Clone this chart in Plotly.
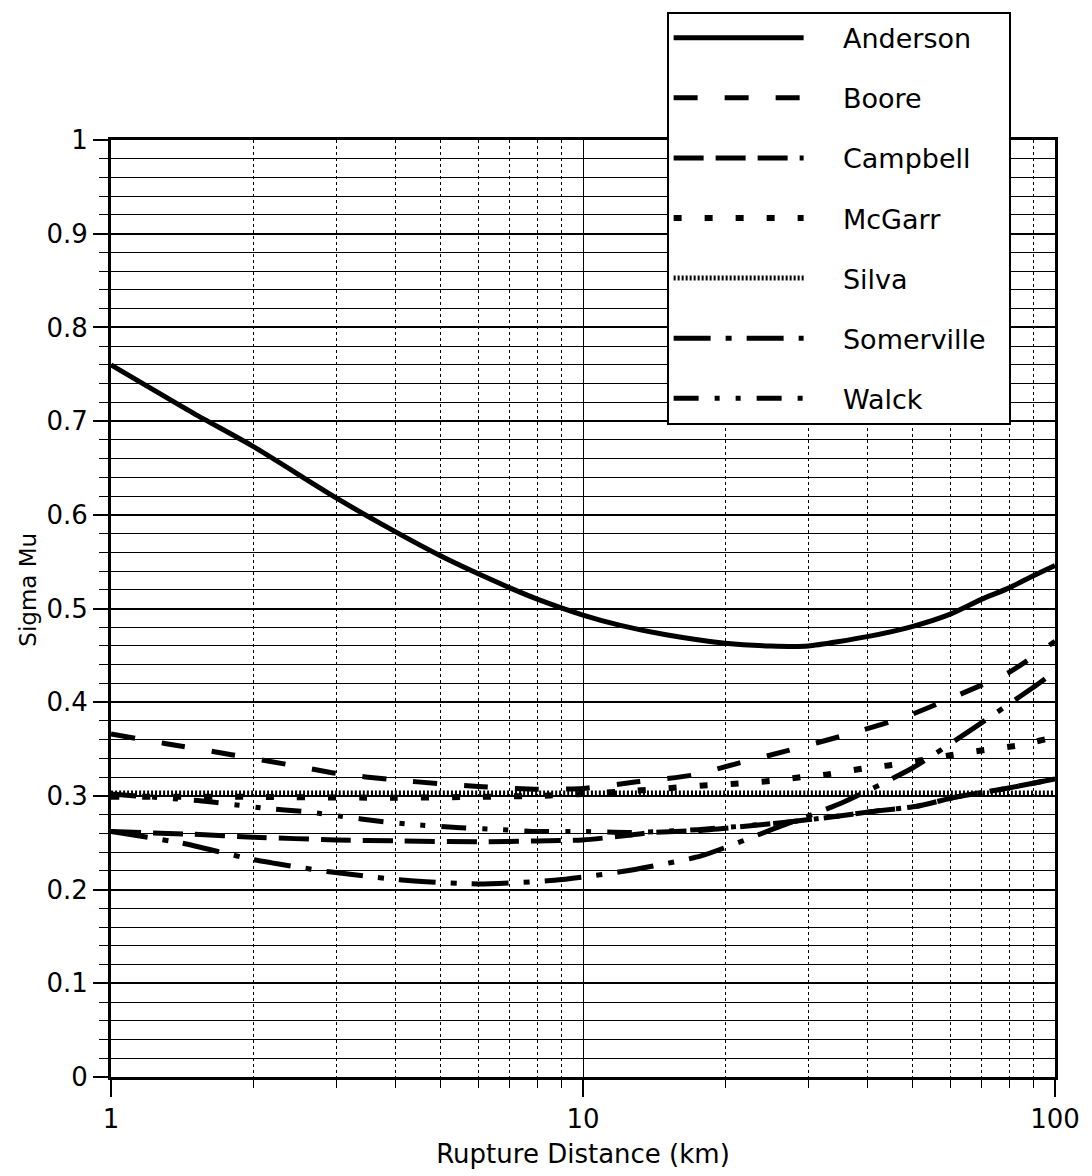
import plotly.graph_objects as go

# ---- data ----
anderson_x = [1, 1.5, 2, 3, 4, 5, 6, 7, 8, 10, 12, 15, 20, 25, 30, 40, 50, 60, 70, 80, 90, 100]
anderson_y = [0.760, 0.708, 0.673, 0.618, 0.582, 0.556, 0.537, 0.522, 0.510, 0.493, 0.482, 0.472,
              0.463, 0.460, 0.460, 0.470, 0.481, 0.494, 0.510, 0.522, 0.535, 0.546]

boore_x = [1, 1.3, 1.8, 2.4, 3, 4, 5, 6, 8, 10, 13, 17, 21, 27, 36, 48, 62, 80, 100]
boore_y = [0.366, 0.356, 0.344, 0.333, 0.324, 0.317, 0.313, 0.310, 0.307, 0.308, 0.315, 0.322,
           0.334, 0.348, 0.365, 0.384, 0.407, 0.432, 0.465]

campbell_x = [1, 1.5, 2, 3, 4, 6, 8, 10, 12.5, 14, 17.5, 21.5, 27, 33, 42, 51, 62, 77, 100]
campbell_y = [0.262, 0.259, 0.256, 0.253, 0.252, 0.251, 0.252, 0.253, 0.258, 0.261, 0.263, 0.267,
              0.272, 0.277, 0.284, 0.289, 0.299, 0.307, 0.318]

mcgarr_x = [1, 2, 4, 6, 8, 10, 12.5, 15, 18, 21, 25, 29, 33, 39, 45, 61, 71, 84, 100]
mcgarr_y = [0.299, 0.299, 0.298, 0.299, 0.300, 0.302, 0.305, 0.308, 0.311, 0.313, 0.316, 0.320,
            0.323, 0.329, 0.333, 0.344, 0.349, 0.354, 0.363]

silva_x = [1, 3, 10, 30, 100]
silva_y = [0.303, 0.303, 0.303, 0.303, 0.303]

somerville_x = [1, 1.4, 2, 2.9, 4.2, 6, 8.7, 12, 17.8, 25.4, 35.5, 50, 68, 93, 100]
somerville_y = [0.262, 0.250, 0.232, 0.219, 0.210, 0.206, 0.210, 0.219, 0.236, 0.265, 0.293,
                0.330, 0.374, 0.421, 0.433]

walck_x = [1, 1.6, 2.1, 2.6, 3.1, 3.7, 4.5, 5.5, 6.7, 8, 10, 12.5, 17.5, 27, 33, 42, 51, 62, 77, 100]
walck_y = [0.302, 0.294, 0.287, 0.283, 0.278, 0.273, 0.269, 0.266, 0.264, 0.262, 0.262, 0.261,
           0.264, 0.272, 0.277, 0.284, 0.289, 0.299, 0.307, 0.318]

x_tick_vals = [1, 10, 100]
x_tick_text = ["1", "10", "100"]
y_tick_vals = [0, 0.1, 0.2, 0.3, 0.4, 0.5, 0.6, 0.7, 0.8, 0.9, 1]
y_tick_text = ["0", "0.1", "0.2", "0.3", "0.4", "0.5", "0.6", "0.7", "0.8", "0.9", "1"]

series = [
    ("Anderson", anderson_x, anderson_y, "solid", 5),
    ("Boore", boore_x, boore_y, "24px,27px", 5),
    ("Campbell", campbell_x, campbell_y, "30px,12px", 5),
    ("McGarr", mcgarr_x, mcgarr_y, "8px,23px", 6),
    ("Silva", silva_x, silva_y, "2px,2px", 5),
    ("Somerville", somerville_x, somerville_y, "37px,15px,6px,15px", 5),
    ("Walck", walck_x, walck_y, "25px,16px,5px,16px,5px,16px", 5),
]

FONT = "DejaVu Sans, Liberation Sans, Arial"
PAD = "\u00a0\u00a0\u00a0\u00a0"
TAIL = "\u00a0\u00a0"

fig = go.Figure()
for name, xs, ys, dash, w in series:
    fig.add_trace(go.Scatter(
        x=xs, y=ys, mode="lines", name=PAD + name + TAIL, legendgroup=name,
        line=dict(color="black", width=w, dash=dash, shape="spline", smoothing=0.6),
    ))

fig.update_layout(
    width=1092, height=1176,
    margin=dict(l=111, r=36, t=139, b=97),
    paper_bgcolor="white", plot_bgcolor="white",
    font=dict(family=FONT, color="black", size=26),
    showlegend=True,
    legend=dict(
        x=0.5886, y=1.137, xanchor="left", yanchor="top",
        bgcolor="white", bordercolor="black", borderwidth=2,
        font=dict(size=27, family=FONT, color="black"),
        itemwidth=130, tracegroupgap=22,
        traceorder="grouped",
    ),
    annotations=[dict(
        text="Sigma Mu", xref="paper", yref="paper",
        x=-0.088, y=0.52, xanchor="center", yanchor="middle",
        textangle=-90, showarrow=False, font=dict(size=23, family=FONT, color="black"),
    )],
)

fig.update_xaxes(
    type="log", range=[0, 2],
    tickmode="array", tickvals=x_tick_vals, ticktext=x_tick_text,
    ticks="outside", ticklen=17, tickwidth=2, tickcolor="black",
    showline=True, linewidth=3, linecolor="black", mirror=True,
    showgrid=True, gridcolor="black", gridwidth=1,
    zeroline=False,
    tickfont=dict(size=26),
    title=dict(text="Rupture Distance (km)", font=dict(size=26), standoff=12),
    minor=dict(dtick="D1", ticks="outside", ticklen=8, tickwidth=1, tickcolor="black",
               showgrid=True, gridcolor="black", gridwidth=1, griddash="dot"),
)

fig.update_yaxes(
    range=[0, 1],
    tickmode="array", tickvals=y_tick_vals, ticktext=y_tick_text,
    ticks="outside", ticklen=15, tickwidth=2, tickcolor="black",
    showline=True, linewidth=3, linecolor="black", mirror=True,
    showgrid=True, gridcolor="black", gridwidth=1.5,
    zeroline=False,
    tickfont=dict(size=26),
    minor=dict(dtick=0.02, tick0=0, ticks="outside", ticklen=9, tickwidth=1, tickcolor="black",
               showgrid=True, gridcolor="black", gridwidth=1),
)

fig.write_html("out.html")
